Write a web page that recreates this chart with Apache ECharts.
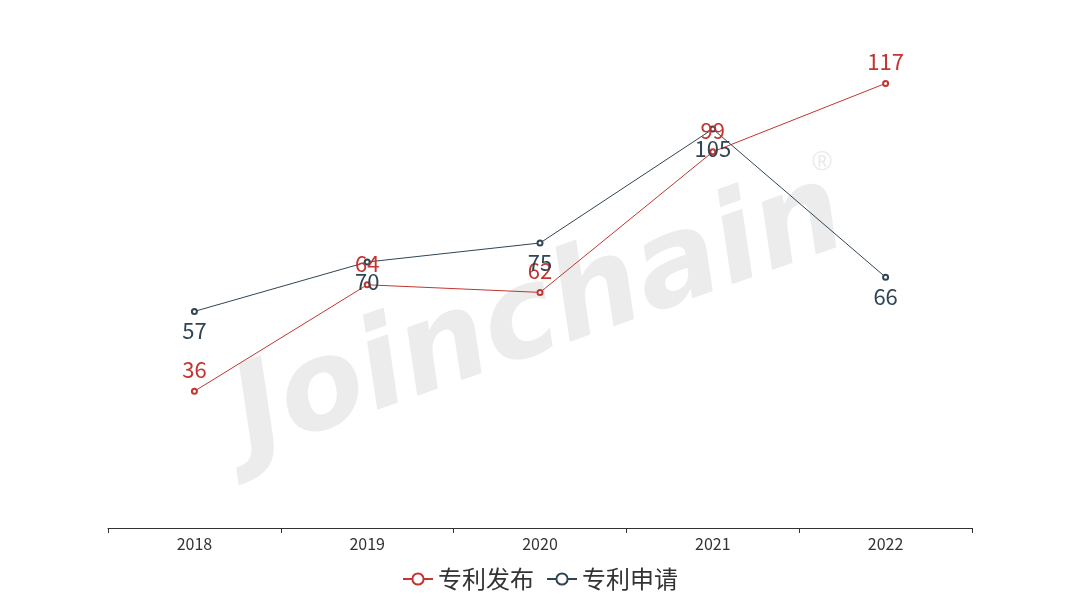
<!DOCTYPE html>
<html><head><meta charset="utf-8">
<script src="https://cdn.jsdelivr.net/npm/echarts@6/dist/echarts.min.js"></script>
<style>html,body{margin:0;padding:0;background:#fff}#c{width:1080px;height:600px}</style>
</head><body><div id="c"></div>
<script>
var categories = ['2018','2019','2020','2021','2022'];
var publishValues = [36, 64, 62, 99, 117];
var applyValues = [57, 70, 75, 105, 66];
var seriesNames = ['专利发布','专利申请'];
var chart = echarts.init(document.getElementById('c'));
var font = '"Noto Sans CJK SC", "Noto Sans", sans-serif';
chart.setOption({
  color: ['#c23531', '#2f4554'],
  textStyle: {fontFamily: font},
  graphic: [
    {type:'text', x: 540, y: 318, rotation: 19.5*Math.PI/180, z: -10, silent: true,
     style:{text:'Joinchain', x: 0, y: 0, align: 'center', verticalAlign: 'middle',
       fontSize: 124, fontWeight:'bold', fontStyle:'italic', fontFamily:'"DejaVu Sans", sans-serif', fill:'#ececec'}},
    {type:'text', x: 822, y: 163, z: -10, silent: true,
     style:{text:'®', x: 0, y: 0, align: 'center', verticalAlign: 'middle', fontSize: 26, fontFamily:'"Open Sans", sans-serif', fill:'#ebebeb'}}
  ],
  legend: {bottom: 4, itemWidth: 30, itemHeight: 14, itemGap: 12,
    textStyle: {fontSize: 24, color: '#333', fontFamily: font},
    data: seriesNames},
  grid: {left: 108, right: 108, top: 72, bottom: 72},
  xAxis: {type: 'category', data: categories, boundaryGap: true,
    axisLine: {show: true, lineStyle: {color: '#333'}},
    axisTick: {show: true, length: 5, lineStyle: {color: '#333'}},
    axisLabel: {fontSize: 16, color: '#333', margin: 8}},
  yAxis: {type: 'value', min: 0, max: 120, show: false, splitLine: {show: false}},
  series: [
    {name: seriesNames[0], type: 'line', data: publishValues, symbol: 'emptyCircle', symbolSize: 5,
     itemStyle: {borderWidth: 1}, lineStyle: {width: 1},
     label: {show: true, position: 'top', fontSize: 22, color: '#c23531', distance: 7}},
    {name: seriesNames[1], type: 'line', data: applyValues, symbol: 'emptyCircle', symbolSize: 5,
     itemStyle: {borderWidth: 1}, lineStyle: {width: 1},
     label: {show: true, position: 'bottom', fontSize: 22, color: '#2f4554', distance: 5}}
  ]
});
</script></body></html>
